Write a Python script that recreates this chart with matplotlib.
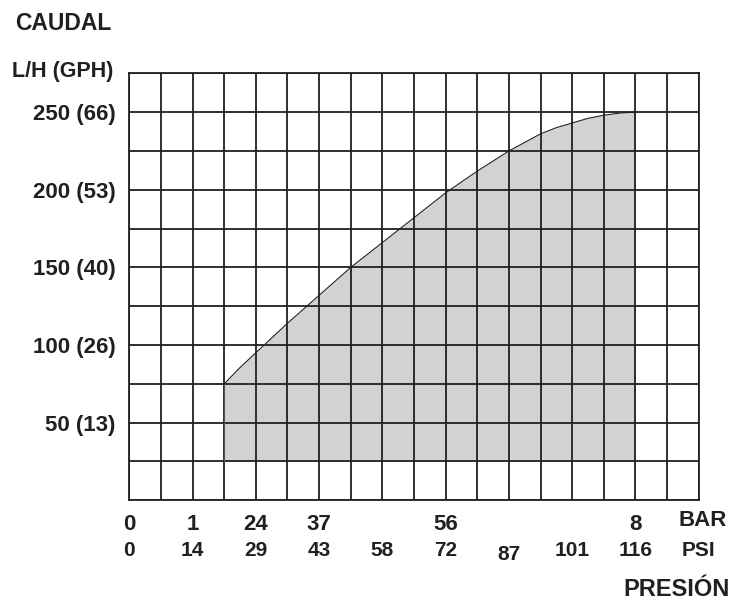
import matplotlib.pyplot as plt
import matplotlib.transforms as mtransforms
import numpy as np

plt.rcParams['font.family'] = ['Liberation Sans', 'DejaVu Sans']
plt.rcParams['font.weight'] = 'bold'

# pressure (bar) and flow (L/H) along the shaded curve
pressure = [1.5, 1.75, 2.0, 2.5, 3.0, 3.5, 4.0, 4.5, 5.0, 5.5, 6.0, 6.5, 6.75, 7.0, 7.25, 7.5, 7.75, 8.0]
flow = [75, 85.5, 95, 114, 132, 150, 166, 182, 198, 212, 225, 236, 240, 243, 246, 248, 249.4, 250]
flow_min = 25

flow_ticks = [50, 100, 150, 200, 250]
flow_labels = ["50 (13)", "100 (26)", "150 (40)", "200 (53)", "250 (66)"]

bar_pos = [0, 1, 2, 3, 5, 8]
bar_labels = ["0", "1", "24", "37", "56", "8"]
psi_pos = [0, 1, 2, 3, 4, 5, 6, 7, 8]
psi_labels = ["0", "14", "29", "43", "58", "72", "87", "101", "116"]

ink = '#231f20'

fig = plt.figure(figsize=(7.32, 6.03), dpi=100)
ax = fig.add_axes([0.1766, 0.1703, 0.9545 - 0.1766, 0.8784 - 0.1703])

ax.fill_between(pressure, flow_min, flow, color='#d1d2d4', lw=0, zorder=1)
ax.plot([pressure[0], pressure[0]], [flow_min, flow[0]], color='#555555', lw=0.8, zorder=3)
ax.plot(pressure, flow, color=ink, lw=0.8, zorder=3)

ax.set_xlim(0, 9)
ax.set_ylim(0, 275)
ax.set_xticks(np.arange(0, 9.01, 0.5))
ax.set_xticklabels([])
yt = np.arange(0, 276, 25)
ax.set_yticks(yt)
ax.set_yticklabels([flow_labels[flow_ticks.index(v)] if v in flow_ticks else "" for v in yt],
                   fontsize=16, fontweight='bold', color=ink)
ax.tick_params(length=0, pad=10)
ax.grid(True, color=ink, lw=1.3, zorder=2)
ax.set_axisbelow(False)
for s in ax.spines.values():
    s.set_color(ink)
    s.set_linewidth(1.3)

trans = mtransforms.blended_transform_factory(ax.transData, fig.transFigure)
for p, lab in zip(bar_pos, bar_labels):
    ax.text(p, 1 - 524 / 603, lab, transform=trans, ha='center', va='center',
            fontsize=16, fontweight='bold', color=ink)
for p, lab in zip(psi_pos, psi_labels):
    yy = 554 if lab == "87" else 551
    ax.text(p, 1 - yy / 603, lab, transform=trans, ha='center', va='center',
            fontsize=15, fontweight='bold', color=ink)

fig.text(703 / 732, 1 - 520 / 603, "BAR", ha='center', va='center',
         fontsize=16, fontweight='bold', color=ink)
fig.text(698 / 732, 1 - 551 / 603, "PSI", ha='center', va='center',
         fontsize=15, fontweight='bold', color=ink)
fig.text(677 / 732, 1 - 589 / 603, "PRESIÓN", ha='center', va='center',
         fontsize=17, fontweight='bold', color=ink)
fig.text(63 / 732, 1 - 24 / 603, "CAUDAL", ha='center', va='center',
         fontsize=16.5, fontweight='bold', color=ink)
fig.text(63 / 732, 1 - 72 / 603, "L/H (GPH)", ha='center', va='center',
         fontsize=15.5, fontweight='bold', color=ink)

fig.savefig('out.png', dpi=100)
